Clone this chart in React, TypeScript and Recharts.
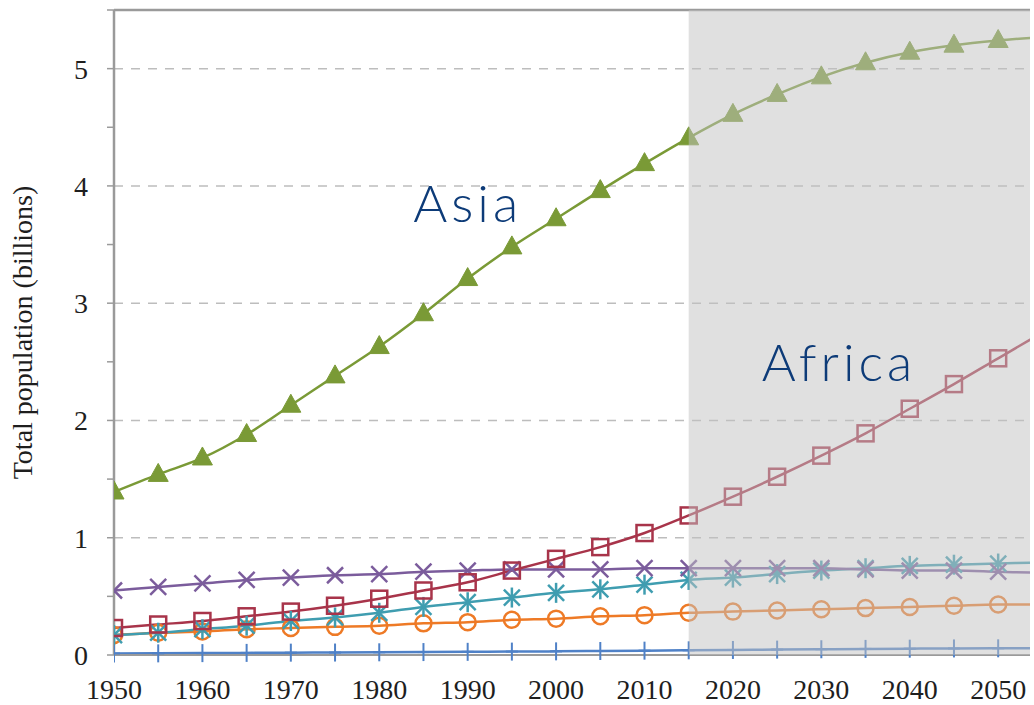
import React from 'react';
import { LineChart, Line, XAxis, YAxis, ReferenceLine, ReferenceArea, ReferenceDot } from 'recharts';

const years = [1950, 1955, 1960, 1965, 1970, 1975, 1980, 1985, 1990, 1995, 2000, 2005, 2010, 2015, 2020, 2025, 2030, 2035, 2040, 2045, 2050, 2055];
const asia = [1.39, 1.54, 1.68, 1.88, 2.13, 2.38, 2.63, 2.91, 3.21, 3.48, 3.72, 3.96, 4.19, 4.41, 4.61, 4.78, 4.93, 5.05, 5.14, 5.2, 5.24, 5.27];
const africa = [0.23, 0.26, 0.29, 0.33, 0.37, 0.42, 0.48, 0.55, 0.62, 0.72, 0.82, 0.92, 1.04, 1.19, 1.35, 1.52, 1.7, 1.89, 2.1, 2.31, 2.53, 2.75];
const europe = [0.55, 0.58, 0.61, 0.64, 0.66, 0.68, 0.69, 0.71, 0.72, 0.73, 0.73, 0.73, 0.74, 0.74, 0.74, 0.74, 0.74, 0.73, 0.72, 0.72, 0.71, 0.7];
const latinAmerica = [0.17, 0.19, 0.22, 0.25, 0.29, 0.32, 0.36, 0.41, 0.45, 0.49, 0.53, 0.56, 0.6, 0.64, 0.66, 0.69, 0.72, 0.74, 0.76, 0.77, 0.78, 0.79];
const northernAmerica = [0.17, 0.19, 0.2, 0.22, 0.23, 0.24, 0.25, 0.27, 0.28, 0.3, 0.31, 0.33, 0.34, 0.36, 0.37, 0.38, 0.39, 0.4, 0.41, 0.42, 0.43, 0.43];
const oceania = [0.013, 0.014, 0.016, 0.018, 0.02, 0.021, 0.023, 0.025, 0.027, 0.029, 0.031, 0.034, 0.037, 0.04, 0.043, 0.046, 0.049, 0.052, 0.054, 0.056, 0.057, 0.059];

const xTicks = [1950, 1960, 1970, 1980, 1990, 2000, 2010, 2020, 2030, 2040, 2050];
const yTicks = [0, 0.5, 1, 1.5, 2, 2.5, 3, 3.5, 4, 4.5, 5, 5.5];
const gridValues = [1, 2, 3, 4, 5];
const projectionStart = 2015;
const yTitle = 'Total population (billions)';

const data = years.map((year, i) => ({
  year,
  asia: asia[i],
  africa: africa[i],
  europe: europe[i],
  latinAmerica: latinAmerica[i],
  northernAmerica: northernAmerica[i],
  oceania: oceania[i],
}));

type Shape = 'triangle' | 'square' | 'x' | 'star' | 'circle' | 'plus';

const makeDot = (shape: Shape, color: string) => (props: any) => {
  const { cx, cy, index } = props;
  const key = `${shape}-${index}`;
  if (cx == null || cy == null) return <g key={key} />;
  const sw = 2.5;
  switch (shape) {
    case 'triangle':
      return (
        <polygon key={key} points={`${cx},${cy - 11} ${cx + 10},${cy + 7} ${cx - 10},${cy + 7}`} fill={color} stroke={color} strokeWidth={1} />
      );
    case 'square':
      return <rect key={key} x={cx - 8} y={cy - 8} width={16} height={16} fill="none" stroke={color} strokeWidth={sw} />;
    case 'x':
      return (
        <g key={key} stroke={color} strokeWidth={sw}>
          <line x1={cx - 8} y1={cy - 8} x2={cx + 8} y2={cy + 8} />
          <line x1={cx - 8} y1={cy + 8} x2={cx + 8} y2={cy - 8} />
        </g>
      );
    case 'star':
      return (
        <g key={key} stroke={color} strokeWidth={sw}>
          <line x1={cx - 8} y1={cy - 8} x2={cx + 8} y2={cy + 8} />
          <line x1={cx - 8} y1={cy + 8} x2={cx + 8} y2={cy - 8} />
          <line x1={cx} y1={cy - 10} x2={cx} y2={cy + 10} />
        </g>
      );
    case 'circle':
      return <circle key={key} cx={cx} cy={cy} r={8} fill="none" stroke={color} strokeWidth={sw} />;
    case 'plus':
    default:
      return (
        <g key={key} stroke={color} strokeWidth={2}>
          <line x1={cx} y1={cy - 9} x2={cx} y2={cy + 9} />
          <line x1={cx - 6} y1={cy} x2={cx + 6} y2={cy} />
        </g>
      );
  }
};

const series: { key: string; color: string; shape: Shape }[] = [
  { key: 'oceania', color: '#4f81c7', shape: 'plus' },
  { key: 'northernAmerica', color: '#ee7a26', shape: 'circle' },
  { key: 'latinAmerica', color: '#3f9db0', shape: 'star' },
  { key: 'europe', color: '#7b5c9c', shape: 'x' },
  { key: 'africa', color: '#a8344a', shape: 'square' },
  { key: 'asia', color: '#7a9a36', shape: 'triangle' },
];

const serif = '"Liberation Serif", "DejaVu Serif", serif';
const labelStyle = { fontFamily: 'Lato, "Open Sans", sans-serif', fontWeight: 300, fontSize: 52, fill: '#0d3b78', letterSpacing: 4 };

export default function App() {
  return (
    <div style={{ position: 'absolute', left: 0, top: 0, width: 1034, height: 705, background: '#fff' }}>
      <LineChart width={1034} height={705} data={data} margin={{ top: 10, right: 4, bottom: 0, left: 0 }}>
        {gridValues.map((v) => (
          <ReferenceLine key={v} y={v} stroke="#bdbdbd" strokeWidth={1.5} strokeDasharray="9 8" />
        ))}
        <XAxis
          type="number"
          dataKey="year"
          domain={[1950, 2053.6]}
          allowDataOverflow
          ticks={xTicks}
          height={50}
          tickLine={false}
          tickSize={0}
          tickMargin={24}
          axisLine={{ stroke: '#9a9a9a', strokeWidth: 2 }}
          tick={{ fontFamily: serif, fontSize: 28, fill: '#1e1e1e' }}
        />
        <YAxis
          type="number"
          domain={[0, 5.5]}
          ticks={yTicks}
          width={114}
          tickSize={7}
          tickMargin={19}
          tickLine={{ stroke: '#9a9a9a', strokeWidth: 1.5 }}
          axisLine={{ stroke: '#9a9a9a', strokeWidth: 2.5 }}
          tickFormatter={(v: number) => (Number.isInteger(v) && v <= 5 ? String(v) : '')}
          tick={{ fontFamily: serif, fontSize: 28, fill: '#1e1e1e' }}
          label={{
            value: yTitle,
            angle: -90,
            position: 'insideLeft',
            offset: 22,
            style: { textAnchor: 'middle', fontFamily: serif, fontSize: 28, fill: '#1e1e1e' },
          }}
        />
        <ReferenceLine y={5.5} stroke="#9a9a9a" strokeWidth={2.5} />
        {series.map((s) => (
          <Line
            key={s.key}
            dataKey={s.key}
            type="monotone"
            stroke={s.color}
            strokeWidth={2.5}
            dot={makeDot(s.shape, s.color)}
            activeDot={false}
            isAnimationActive={false}
          />
        ))}
        <ReferenceArea
          x1={projectionStart}
          x2={2053.6}
          y1={0}
          y2={5.5}
          fill="#c2c2c2"
          fillOpacity={0.5}
          stroke="none"
          ifOverflow="hidden"
          {...({ zIndex: 1000 } as any)}
        />
        <ReferenceDot
          x={1990}
          y={3.85}
          r={0}
          fill="none"
          stroke="none"
          label={{ value: 'Asia', position: 'center', style: labelStyle }}
          {...({ zIndex: 1100 } as any)}
        />
        <ReferenceDot
          x={2032}
          y={2.49}
          r={0}
          fill="none"
          stroke="none"
          label={{ value: 'Africa', position: 'center', style: labelStyle }}
          {...({ zIndex: 1100 } as any)}
        />
      </LineChart>
    </div>
  );
}
